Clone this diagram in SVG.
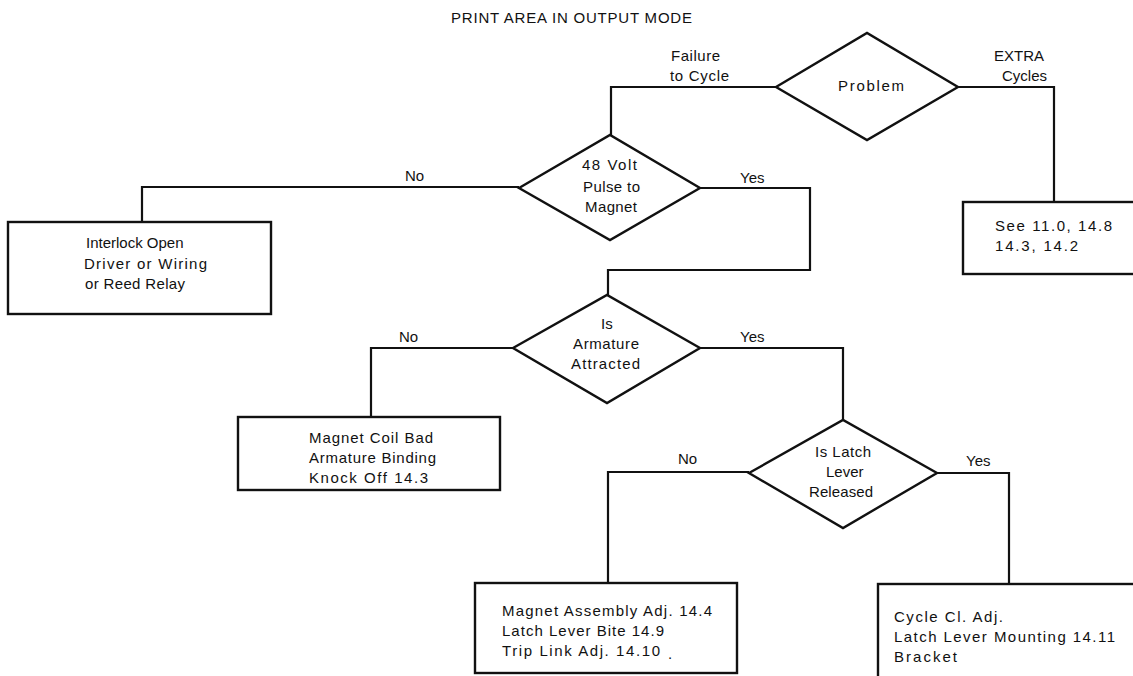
<svg xmlns="http://www.w3.org/2000/svg" width="1133" height="676" viewBox="0 0 1133 676">
<style>
.s{fill:none;stroke:#111;stroke-width:2.2;stroke-linejoin:miter}
.b{fill:#fff;stroke:#111;stroke-width:2.4}
text{font-family:"Liberation Sans",Arial,sans-serif;font-size:15px;fill:#111}
.t{font-size:15px}
</style>
<rect width="1133" height="676" fill="#fff"/>
<text class="t" x="451" y="23" textLength="241" lengthAdjust="spacing">PRINT AREA IN OUTPUT MODE</text>
<g id="connectors">
<path class="s" d="M776 87 H611 V135"/>
<path class="s" d="M958 87 H1054 V202"/>
<path class="s" d="M519 187 H142 V222"/>
<path class="s" d="M700 188 H810 V270 H608 V295"/>
<path class="s" d="M513 348 H371 V417"/>
<path class="s" d="M700 348 H843 V420"/>
<path class="s" d="M749 472 H608 V583"/>
<path class="s" d="M937 473 H1009 V584"/>
<text x="671" y="61" textLength="49" lengthAdjust="spacing">Failure</text>
<text x="670" y="81" textLength="59" lengthAdjust="spacing">to Cycle</text>
<text x="994" y="61">EXTRA</text>
<text x="1002" y="81">Cycles</text>
<text x="405" y="181">No</text>
<text x="740" y="183">Yes</text>
<text x="399" y="342">No</text>
<text x="740" y="342">Yes</text>
<text x="678" y="464">No</text>
<text x="966" y="466">Yes</text>
</g>
<g id="problem">
<polygon class="b" points="776,87 867,33 958,87 867,140"/>
<text x="838" y="91" textLength="66" lengthAdjust="spacing">Problem</text>
</g>
<g id="pulse">
<polygon class="b" points="519,188 610,135 700,188 610,240"/>
<text x="582" y="170" textLength="55" lengthAdjust="spacing">48 Volt</text>
<text x="583" y="192" textLength="57" lengthAdjust="spacing">Pulse to</text>
<text x="585" y="212" textLength="52" lengthAdjust="spacing">Magnet</text>
</g>
<g id="interlock">
<rect class="b" x="8" y="222" width="263" height="92"/>
<text x="86" y="248">Interlock Open</text>
<text x="84" y="269" textLength="123" lengthAdjust="spacing">Driver or Wiring</text>
<text x="85" y="289" textLength="100" lengthAdjust="spacing">or Reed Relay</text>
</g>
<g id="extra">
<rect class="b" x="963" y="202" width="180" height="72"/>
<text x="995" y="231" textLength="117" lengthAdjust="spacing">See 11.0, 14.8</text>
<text x="995" y="251" textLength="83" lengthAdjust="spacing">14.3, 14.2</text>
</g>
<g id="armature">
<polygon class="b" points="513,348 607,295 700,348 607,403"/>
<text x="601" y="329">Is</text>
<text x="573" y="349" textLength="66" lengthAdjust="spacing">Armature</text>
<text x="571" y="369" textLength="69" lengthAdjust="spacing">Attracted</text>
</g>
<g id="magnetcoil">
<rect class="b" x="238" y="417" width="262" height="73"/>
<text x="309" y="443" textLength="124" lengthAdjust="spacing">Magnet Coil Bad</text>
<text x="309" y="463" textLength="127" lengthAdjust="spacing">Armature Binding</text>
<text x="309" y="483" textLength="119" lengthAdjust="spacing">Knock Off 14.3</text>
</g>
<g id="latch">
<polygon class="b" points="749,473 843,420 937,473 843,528"/>
<text x="815" y="457" textLength="56" lengthAdjust="spacing">Is Latch</text>
<text x="826" y="477">Lever</text>
<text x="809" y="497" textLength="64" lengthAdjust="spacing">Released</text>
</g>
<g id="assembly">
<rect class="b" x="475" y="583" width="262" height="90"/>
<text x="502" y="616" textLength="210" lengthAdjust="spacing">Magnet Assembly Adj. 14.4</text>
<text x="502" y="636" textLength="162" lengthAdjust="spacing">Latch Lever Bite 14.9</text>
<text x="502" y="656" textLength="158" lengthAdjust="spacing">Trip Link Adj. 14.10</text>
<text x="668" y="659">.</text>
</g>
<g id="cycle">
<rect class="b" x="878" y="584" width="270" height="110"/>
<text x="894" y="622" textLength="109" lengthAdjust="spacing">Cycle Cl. Adj.</text>
<text x="894" y="642" textLength="221" lengthAdjust="spacing">Latch Lever Mounting 14.11</text>
<text x="894" y="662" textLength="63" lengthAdjust="spacing">Bracket</text>
</g>
</svg>
